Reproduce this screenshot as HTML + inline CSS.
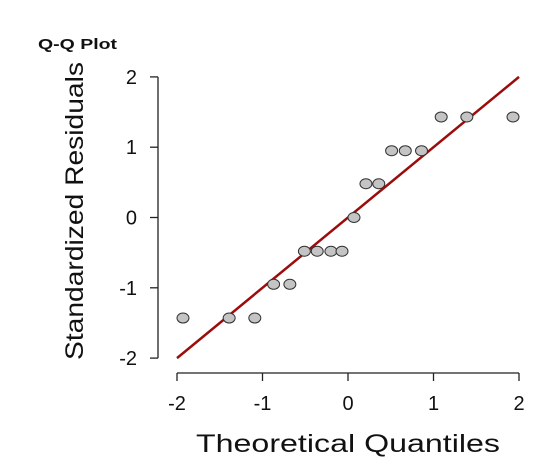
<!DOCTYPE html>
<html><head><meta charset="utf-8"><style>
body{margin:0;background:#fff;}
svg{display:block;font-family:"Liberation Sans",sans-serif;}
</style></head><body>
<svg id="chart" width="557" height="470" viewBox="0 0 557 470">
<text x="38" y="49" font-size="15" font-weight="bold" fill="#111" textLength="79" lengthAdjust="spacingAndGlyphs">Q-Q Plot</text>
<g id="yaxis"></g>
<g id="xaxis"></g>
<text x="348" y="452" font-size="25" text-anchor="middle" fill="#111" textLength="304" lengthAdjust="spacingAndGlyphs">Theoretical Quantiles</text>
<text transform="translate(83,211) rotate(-90)" font-size="25" text-anchor="middle" fill="#111" textLength="298" lengthAdjust="spacingAndGlyphs">Standardized Residuals</text>
<g id="marks"></g>
</svg>
<script>
const theoretical=[-1.93,-1.39,-1.09,-0.87,-0.68,-0.51,-0.36,-0.2,-0.07,0.07,0.21,0.36,0.51,0.67,0.86,1.09,1.39,1.93];
const residuals=[-1.43,-1.43,-1.43,-0.95,-0.95,-0.48,-0.48,-0.48,-0.48,0,0.48,0.48,0.95,0.95,0.95,1.43,1.43,1.43];
const xTicks=[-2,-1,0,1,2];
const yTicks=[-2,-1,0,1,2];
const refLine=[-2,2];
const NS='http://www.w3.org/2000/svg';
const sx=v=>348+v*85.5, sy=v=>217.5-v*70.3;
function mk(tag,attrs,parent){const e=document.createElementNS(NS,tag);for(const k in attrs)e.setAttribute(k,attrs[k]);parent.appendChild(e);return e;}
const xa=document.getElementById('xaxis'),ya=document.getElementById('yaxis'),m=document.getElementById('marks');
let l=mk('line',{x1:sx(-2),x2:sx(2),y1:373,y2:373,stroke:'#222','stroke-width':1.3},xa);


xTicks.forEach(t=>{
 let k=mk('line',{x1:sx(t),x2:sx(t),y1:373,y2:381,stroke:'#222','stroke-width':1.3},xa);
 
 
 let tx=mk('text',{x:sx(t),y:410,'font-size':20,'text-anchor':'middle',fill:'#111'},xa);tx.textContent=t;
 
 
});
l=mk('line',{x1:158,x2:158,y1:sy(-2),y2:sy(2),stroke:'#222','stroke-width':1.3},ya);


yTicks.forEach(t=>{
 let k=mk('line',{x1:150,x2:158,y1:sy(t),y2:sy(t),stroke:'#222','stroke-width':1.3},ya);
 
 
 let tx=mk('text',{x:137,y:sy(t)+7,'font-size':20,'text-anchor':'end',fill:'#111'},ya);tx.textContent=t;
 
 
});
l=mk('line',{x1:sx(refLine[0]),y1:sy(refLine[0]),x2:sx(refLine[1]),y2:sy(refLine[1]),stroke:'#9b0d0d','stroke-width':2.5},m);


theoretical.forEach((x,i)=>{
 const c=mk('ellipse',{cx:sx(x),cy:sy(residuals[i]),rx:6,ry:5,fill:'#c4c4c4',stroke:'#333','stroke-width':1},m);
 
 
});
</script>
</body></html>
